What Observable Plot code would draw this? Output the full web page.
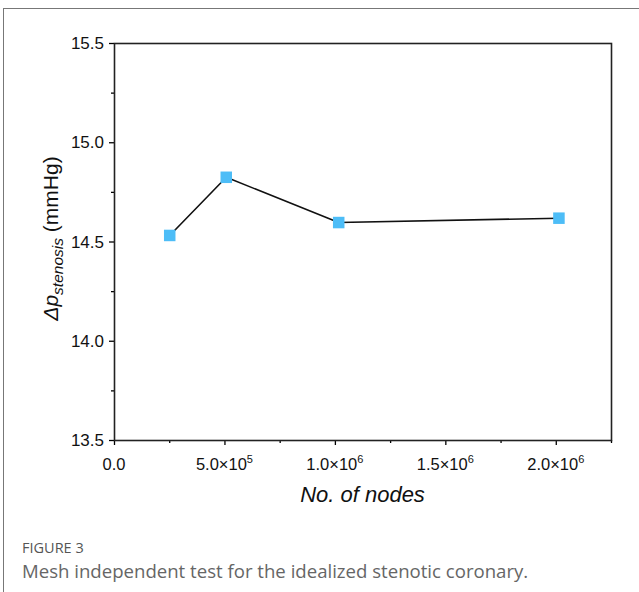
<!DOCTYPE html>
<html>
<head>
<meta charset="utf-8">
<script src="https://cdn.jsdelivr.net/npm/d3@7"></script>
<script src="https://cdn.jsdelivr.net/npm/@observablehq/plot@0.6"></script>
<style>
  html, body { margin: 0; padding: 0; background: #fff; }
  #fig { position: relative; width: 639px; height: 592px; overflow: hidden; background: #fff; }
  #topline { position: absolute; left: 3px; top: 8px; width: 636px; height: 1px; background: #777; }
  #leftline { position: absolute; left: 3px; top: 8px; width: 1px; height: 584px; background: #777; }
  #chart { position: absolute; left: 0; top: 0; }
</style>
</head>
<body>
<div id="fig">
  <div id="topline"></div>
  <div id="leftline"></div>
  <div id="chart"></div>
</div>
<script>
const nodes = [250000, 506000, 1015000, 2012000];
const dp = [14.533, 14.826, 14.598, 14.62];
const xMajor = [0, 500000, 1000000, 1500000, 2000000];
const xLabelBase = ["0.0", "5.0×10", "1.0×10", "1.5×10", "2.0×10"];
const xLabelExp = ["", "5", "6", "6", "6"];
const xMinor = [250000, 750000, 1250000, 1750000, 2250000];
const yMajor = [13.5, 14.0, 14.5, 15.0, 15.5];
const yMinor = [13.75, 14.25, 14.75, 15.25];
const xTitle = "No. of nodes";
const captionHead = "FIGURE 3";
const captionText = "Mesh independent test for the idealized stenotic coronary.";

const data = nodes.map((n, i) => ({n, v: dp[i]}));
const FONT = "'Liberation Sans', Arial, sans-serif";

const plot = Plot.plot({
  width: 639,
  height: 592,
  marginLeft: 114,
  marginRight: 28,
  marginTop: 43,
  marginBottom: 152,
  style: {background: "transparent"},
  x: {domain: [0, 2250000]},
  y: {domain: [13.5, 15.5]},
  marks: [
    Plot.axisX(xMajor, {tickSize: 5, tickFormat: () => "", label: null, strokeWidth: 1.3}),
    Plot.axisX(xMinor, {tickSize: 3, tickFormat: () => "", label: null, strokeWidth: 1.3}),
    Plot.axisY(yMajor, {tickSize: 5, tickFormat: () => "", label: null, strokeWidth: 1.3}),
    Plot.axisY(yMinor, {tickSize: 3, tickFormat: () => "", label: null, strokeWidth: 1.3}),
    Plot.frame({stroke: "#222", strokeWidth: 1.6}),
    Plot.line(data, {x: "n", y: "v", stroke: "#111", strokeWidth: 1.6}),
    Plot.dot(data, {x: "n", y: "v", symbol: "square", r: 6.5, fill: "#4dbdf7", stroke: "none"})
  ]
});
document.getElementById("chart").appendChild(plot);

const svg = d3.select(plot);
const xs = plot.scale("x"), ys = plot.scale("y");
const y0 = ys.apply(13.5);
const x0 = xs.apply(0);

// x tick labels
xMajor.forEach((v, i) => {
  const t = svg.append("text")
    .attr("x", xs.apply(v)).attr("y", y0 + 30)
    .attr("text-anchor", "middle")
    .attr("font-family", FONT).attr("font-size", 16.5).attr("fill", "#111");
  t.append("tspan").text(xLabelBase[i]);
  if (xLabelExp[i]) t.append("tspan").attr("font-size", 11).attr("dy", -7).text(xLabelExp[i]);
});
// y tick labels
yMajor.forEach(v => {
  svg.append("text")
    .attr("x", x0 - 10).attr("y", ys.apply(v)).attr("dy", "0.36em")
    .attr("text-anchor", "end")
    .attr("font-family", FONT).attr("font-size", 17).attr("fill", "#111")
    .text(v.toFixed(1));
});
// x axis title
svg.append("text")
  .attr("x", (xs.apply(0) + xs.apply(2250000)) / 2).attr("y", 502)
  .attr("text-anchor", "middle")
  .attr("font-family", FONT)
  .attr("font-size", 22).attr("font-style", "italic").attr("fill", "#111")
  .text(xTitle);
// y axis title
const yt = svg.append("text")
  .attr("transform", `translate(58,${(ys.apply(13.5) + ys.apply(15.5)) / 2 - 3}) rotate(-90)`)
  .attr("text-anchor", "middle")
  .attr("font-family", FONT)
  .attr("font-size", 21).attr("fill", "#111");
yt.append("tspan").attr("font-style", "italic").text("Δp");
yt.append("tspan").attr("font-style", "italic").attr("font-size", 15.5).attr("dy", 5).text("stenosis");
yt.append("tspan").attr("dy", -5).text(" (mmHg)");
// caption
svg.append("text").attr("x", 22).attr("y", 553)
  .attr("text-anchor", "start")
  .attr("font-family", "'Open Sans', sans-serif").attr("font-size", 14.5).attr("font-weight", 500).attr("fill", "#555")
  .text(captionHead);
svg.append("text").attr("x", 22).attr("y", 578)
  .attr("text-anchor", "start")
  .attr("font-family", "'Open Sans', sans-serif").attr("font-size", 18.6).attr("fill", "#666")
  .text(captionText);
</script>
</body>
</html>
